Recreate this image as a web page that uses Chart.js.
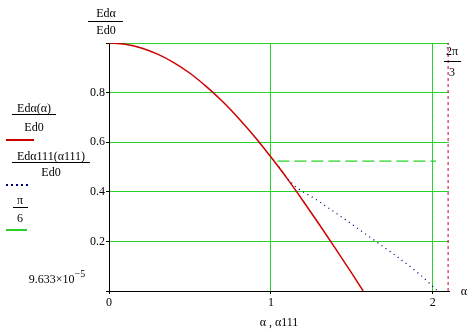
<!DOCTYPE html>
<html>
<head>
<meta charset="utf-8">
<script src="https://cdn.jsdelivr.net/npm/chart.js@4"></script>
<style>
  body { margin: 0; background: #fff; }
  #wrap { position: relative; width: 469px; height: 329px; font-family: 'Liberation Serif', 'Times New Roman', serif; font-size: 12px; color: #000; }
  #wrap canvas { position: absolute; left: 0; top: 0; }
  .t { position: absolute; transform: translate(-50%, -50%); white-space: nowrap; line-height: 1; }
  .bar { position: absolute; height: 0; border-top: 1px solid #000; }
  .ln { position: absolute; }
</style>
</head>
<body>
<div id="wrap">
  <canvas id="chart" width="469" height="329"></canvas>
</div>
<script>
// Edα(α)/Ed0, red curve
const redX = [0, 0.1, 0.2, 0.3, 0.4, 0.5, 0.6, 0.7, 0.8, 0.9, 1.0, 1.1, 1.2, 1.3, 1.4, 1.5, 1.57];
const redY = [1.0, 0.995, 0.98, 0.955, 0.921, 0.878, 0.825, 0.765, 0.697, 0.622, 0.54, 0.454, 0.362, 0.267, 0.17, 0.071, 0.0];
// Edα111(α111)/Ed0, blue dotted
const blueX = [1.05, 1.12, 1.3, 1.625, 1.914, 2.03];
const blueY = [0.5, 0.44, 0.36, 0.211, 0.07, 0.0];
// π/6 level, green dashed
const greenX = [1.04, 2.02];
const greenY = [0.5236, 0.5236];
// 2π/3 marker
const markX = [2.0944, 2.0944];
const markY = [0, 1];

const xTicks = [0, 1, 2];
const yTicks = [0.2, 0.4, 0.6, 0.8];

const gridGreen = 'rgb(40, 210, 40)';
const serif = "'Liberation Serif', 'Times New Roman', serif";

function pts(xs, ys) {
  return xs.map((x, i) => ({ x: x, y: ys[i] }));
}

const ctx = document.getElementById('chart');
new Chart(ctx, {
  type: 'scatter',
  data: {
    datasets: [
      { data: pts(redX, redY), showLine: true, borderColor: 'rgb(205, 0, 0)', borderWidth: 1.5, pointRadius: 0, cubicInterpolationMode: 'monotone' },
      { data: pts(blueX, blueY), showLine: true, borderColor: 'rgb(0, 0, 120)', borderWidth: 1.3, borderDash: [1, 4], pointRadius: 0, cubicInterpolationMode: 'monotone' },
      { data: pts(greenX, greenY), showLine: true, borderColor: gridGreen, borderWidth: 1.3, borderDash: [12, 5], pointRadius: 0 },
      { data: pts(markX, markY), showLine: true, borderColor: 'rgb(200, 0, 40)', borderWidth: 1, borderDash: [3, 3], pointRadius: 0 }
    ]
  },
  options: {
    responsive: false,
    animation: false,
    layout: { padding: { left: 0, right: 20, top: 43, bottom: 0 } },
    plugins: { legend: { display: false }, tooltip: { enabled: false } },
    scales: {
      x: {
        type: 'linear', min: 0, max: 2.1,
        afterFit: s => { s.height = 38; },
        border: { color: '#000', width: 1 },
        grid: {
          color: c => (c.tick && c.tick.value === 0 ? 'rgba(0,0,0,0)' : gridGreen),
          tickColor: '#000', tickLength: 3
        },
        afterBuildTicks: s => { s.ticks = xTicks.map(v => ({ value: v })); },
        ticks: { color: '#000', font: { family: serif, size: 12 }, padding: 2, maxRotation: 0,
                 callback: v => String(v) }
      },
      y: {
        type: 'linear', min: 0, max: 1,
        afterFit: s => { s.width = 109; },
        border: { color: '#000', width: 1 },
        grid: {
          color: c => (c.tick && c.tick.value === 0 ? 'rgba(0,0,0,0)' : gridGreen),
          tickColor: '#000', tickLength: 3
        },
        afterBuildTicks: s => { s.ticks = [0].concat(yTicks, [1]).map(v => ({ value: v })); },
        ticks: { color: '#000', font: { family: serif, size: 12 }, padding: 1,
                 callback: v => (yTicks.indexOf(v) >= 0 ? String(v) : '') }
      }
    }
  }
});

// text labels around the plot
const wrap = document.getElementById('wrap');
function text(s, x, y, html) {
  const d = document.createElement('div');
  d.className = 't';
  if (html) d.innerHTML = s; else d.textContent = s;
  d.style.left = x + 'px';
  d.style.top = y + 'px';
  wrap.appendChild(d);
}
function bar(x1, x2, y) {
  const d = document.createElement('div');
  d.className = 'bar';
  d.style.left = x1 + 'px';
  d.style.width = (x2 - x1) + 'px';
  d.style.top = y + 'px';
  wrap.appendChild(d);
}
function sample(x1, x2, y, css) {
  const d = document.createElement('div');
  d.className = 'ln';
  d.style.left = x1 + 'px';
  d.style.width = (x2 - x1) + 'px';
  d.style.top = y + 'px';
  Object.assign(d.style, css);
  wrap.appendChild(d);
}

// y title
text('Edα', 106, 13);
bar(88, 123, 21);
text('Ed0', 106, 30);

// legend
text('Edα(α)', 34, 108);
bar(12, 56, 114);
text('Ed0', 34, 127);
sample(6, 34, 139, { height: '2px', background: 'rgb(205, 0, 0)' });

text('Edα111(α111)', 51, 156);
bar(12, 90, 162);
text('Ed0', 51, 172);
sample(6, 30, 184, { height: '2px', background: 'repeating-linear-gradient(90deg, rgb(0,0,120) 0 2px, transparent 2px 5px)' });

text('π', 20, 200);
bar(13, 28, 207);
text('6', 20, 218);
sample(6, 27, 229, { height: '2px', background: gridGreen });

text('9.633×10<sup style="font-size:10px;vertical-align:6px">−5</sup>', 57, 277, true);

// 2π/3 marker label
text('2π', 452, 51);
bar(444, 461, 61);
text('3', 452, 72);

// x labels
text('α', 464, 291);
text('α , α111', 279, 322);
</script>
</body>
</html>
